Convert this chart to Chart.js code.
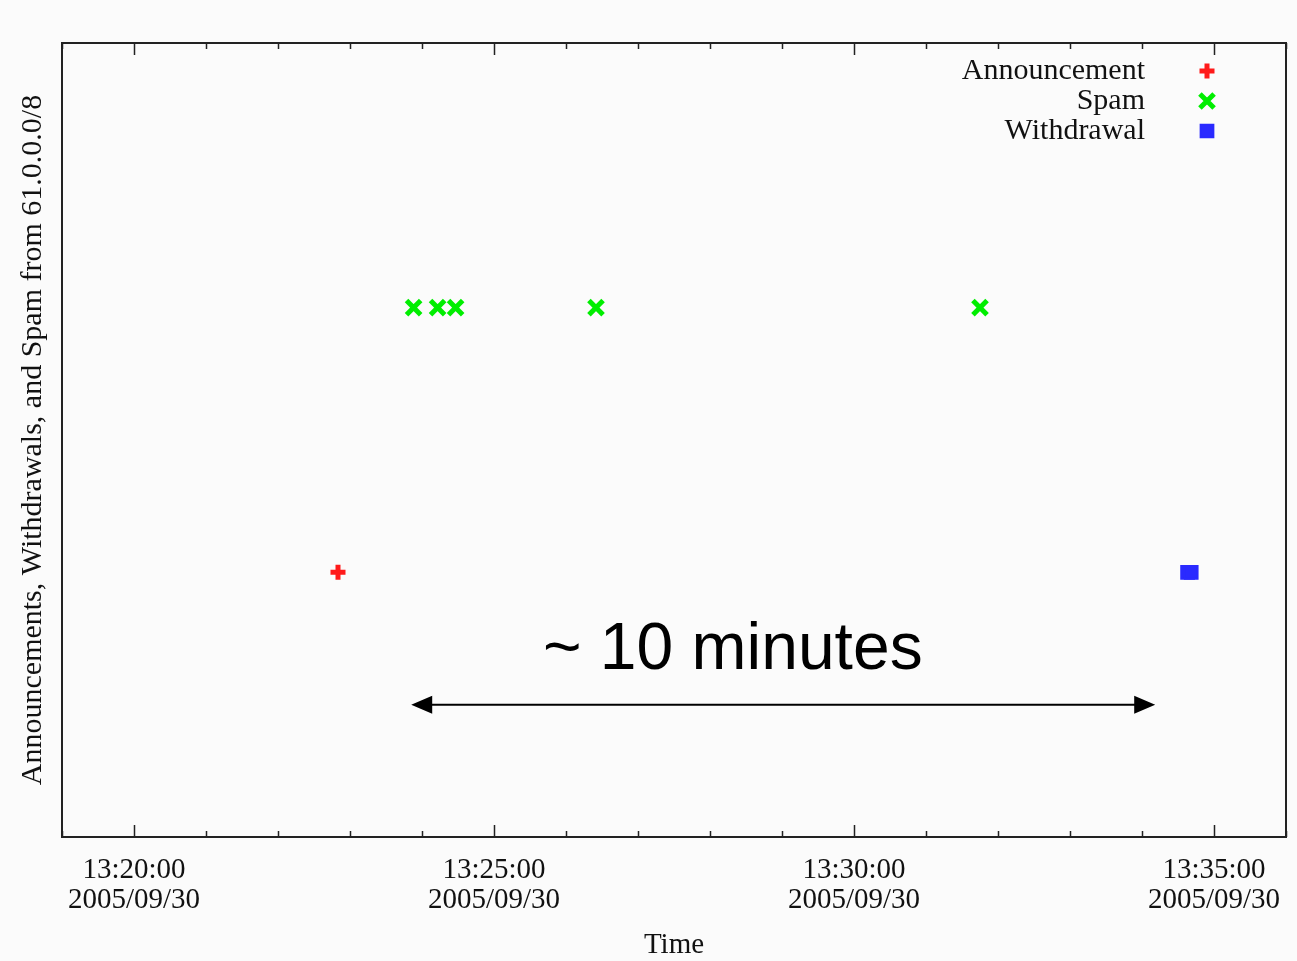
<!DOCTYPE html>
<html>
<head>
<meta charset="utf-8">
<script src="https://cdn.jsdelivr.net/npm/chart.js@4.4.0/dist/chart.umd.min.js"></script>
<style>
  html, body { margin: 0; padding: 0; background: #fbfbfb; overflow: hidden; }
  #wrap { position: relative; width: 1297px; height: 961px; }
  canvas { display: block; }
</style>
</head>
<body>
<div id="wrap"><canvas id="c"></canvas></div>
<script>
// Event times (hh:mm:ss on 2005/09/30), and the row each sits on.
const announceTimes = ['13:22:50'];
const announceLevel = [1];
const spamTimes = ['13:23:53', '13:24:13', '13:24:28', '13:26:25', '13:31:45'];
const spamLevel = [2, 2, 2, 2, 2];
const withdrawTimes = ['13:34:38', '13:34:41'];
const withdrawLevel = [1, 1];

const tickDate = '2005/09/30';
const axisRange = ['13:19:00', '13:36:00'];

// "~ 10 minutes" annotation
const arrowSpan = ['13:23:51', '13:34:11'];
const arrowLevel = 0.5;
const noteText = '~ 10 minutes';
const noteTime = '13:28:19';
const noteLevel = 0.635;

const SERIF = '"Liberation Serif", "DejaVu Serif", serif';

function toSec(t) {
  const p = t.split(':').map(Number);
  return p[0] * 3600 + p[1] * 60 + p[2];
}
function fmtSec(v) {
  const h = Math.floor(v / 3600), m = Math.floor((v % 3600) / 60), s = v % 60;
  const pad = (n) => String(n).padStart(2, '0');
  return pad(h) + ':' + pad(m) + ':' + pad(s);
}
function pts(times, levels) {
  return times.map((t, i) => ({ x: toSec(t), y: levels[i] }));
}

// frame, inward ticks on top and bottom, legend and the arrow note
const decor = {
  id: 'decor',
  beforeDraw(chart) {
    const { ctx } = chart;
    ctx.save();
    ctx.fillStyle = '#fbfbfb';
    ctx.fillRect(0, 0, chart.width, chart.height);
    ctx.restore();
  },
  afterDraw(chart) {
    const { ctx, chartArea: a } = chart;
    const xs = chart.scales.x, ys = chart.scales.y;
    ctx.save();

    ctx.strokeStyle = '#222';
    ctx.lineWidth = 2;
    ctx.strokeRect(a.left, a.top, a.right - a.left, a.bottom - a.top);

    ctx.lineWidth = 1.5;
    xs.ticks.forEach((t) => {
      const px = Math.round(xs.getPixelForValue(t.value)) + 0.5;
      const len = t.value % 300 === 0 ? 12 : 6;
      ctx.beginPath();
      ctx.moveTo(px, a.bottom); ctx.lineTo(px, a.bottom - len);
      ctx.moveTo(px, a.top); ctx.lineTo(px, a.top + len);
      ctx.stroke();
    });

    // legend: text right-aligned, symbol to its right
    ctx.font = '30px ' + SERIF;
    ctx.textAlign = 'right';
    ctx.textBaseline = 'middle';
    chart.data.datasets.forEach((ds, i) => {
      const y = a.top + 28 + i * 30;
      ctx.fillStyle = '#111';
      ctx.fillText(ds.label, a.right - 141, y);
      ctx.strokeStyle = ds.borderColor;
      ctx.fillStyle = ds.backgroundColor;
      ctx.lineWidth = ds.borderWidth;
      Chart.helpers.drawPoint(ctx, {
        pointStyle: ds.pointStyle, radius: ds.pointRadius, rotation: 0, borderWidth: ds.borderWidth
      }, a.right - 79, y);
    });

    // arrow
    const x1 = xs.getPixelForValue(toSec(arrowSpan[0]));
    const x2 = xs.getPixelForValue(toSec(arrowSpan[1]));
    const ay = ys.getPixelForValue(arrowLevel);
    ctx.strokeStyle = '#000';
    ctx.fillStyle = '#000';
    ctx.lineWidth = 2;
    ctx.beginPath();
    ctx.moveTo(x1 + 10, ay); ctx.lineTo(x2 - 10, ay);
    ctx.stroke();
    ctx.beginPath();
    ctx.moveTo(x1, ay); ctx.lineTo(x1 + 21, ay - 9); ctx.lineTo(x1 + 21, ay + 9); ctx.closePath();
    ctx.moveTo(x2, ay); ctx.lineTo(x2 - 21, ay - 9); ctx.lineTo(x2 - 21, ay + 9); ctx.closePath();
    ctx.fill();

    ctx.font = '66px "Liberation Sans", Arial, sans-serif';
    ctx.textAlign = 'center';
    ctx.textBaseline = 'alphabetic';
    ctx.fillText(noteText, xs.getPixelForValue(toSec(noteTime)), ys.getPixelForValue(noteLevel));

    ctx.restore();
  }
};

new Chart(document.getElementById('c'), {
  type: 'scatter',
  data: {
    datasets: [
      {
        label: 'Announcement', data: pts(announceTimes, announceLevel),
        pointStyle: 'cross', pointRadius: 7.5, borderWidth: 5,
        borderColor: '#ff1a1a', backgroundColor: '#ff1a1a'
      },
      {
        label: 'Spam', data: pts(spamTimes, spamLevel),
        pointStyle: 'crossRot', pointRadius: 10, borderWidth: 5,
        borderColor: '#00ee00', backgroundColor: '#00ee00'
      },
      {
        label: 'Withdrawal', data: pts(withdrawTimes, withdrawLevel),
        pointStyle: 'rect', pointRadius: 9, borderWidth: 2,
        borderColor: '#2a2aff', backgroundColor: '#2a2aff'
      }
    ]
  },
  options: {
    responsive: true, maintainAspectRatio: false, animation: false,
    layout: { autoPadding: false, padding: { top: 43, right: 11, left: 0, bottom: 0 } },
    plugins: { legend: { display: false }, tooltip: { enabled: false } },
    scales: {
      x: {
        type: 'linear',
        min: toSec(axisRange[0]), max: toSec(axisRange[1]),
        afterFit: (s) => { s.height = 124; s.paddingLeft = 0; s.paddingRight = 0; },
        grid: { display: false, drawTicks: false },
        border: { display: false },
        ticks: {
          stepSize: 60, autoSkip: false, maxRotation: 0, padding: 18,
          color: '#111', font: { family: SERIF, size: 29, lineHeight: 1.035 },
          callback: (v) => (v % 300 === 0 ? [fmtSec(v), tickDate] : '')
        },
        title: {
          display: true, text: 'Time', color: '#111',
          font: { family: SERIF, size: 29, lineHeight: 1.08 },
          padding: { top: 0, bottom: 0 }
        }
      },
      y: {
        min: 0, max: 3,
        afterFit: (s) => { s.width = 62; },
        grid: { display: false, drawTicks: false },
        border: { display: false },
        ticks: { display: false },
        title: {
          display: true, text: 'Announcements, Withdrawals, and Spam from 61.0.0.0/8', color: '#111',
          font: { family: SERIF, size: 30, lineHeight: 1.2 },
          padding: { top: 15, bottom: 0 }
        }
      }
    }
  },
  plugins: [decor]
});
</script>
</body>
</html>
